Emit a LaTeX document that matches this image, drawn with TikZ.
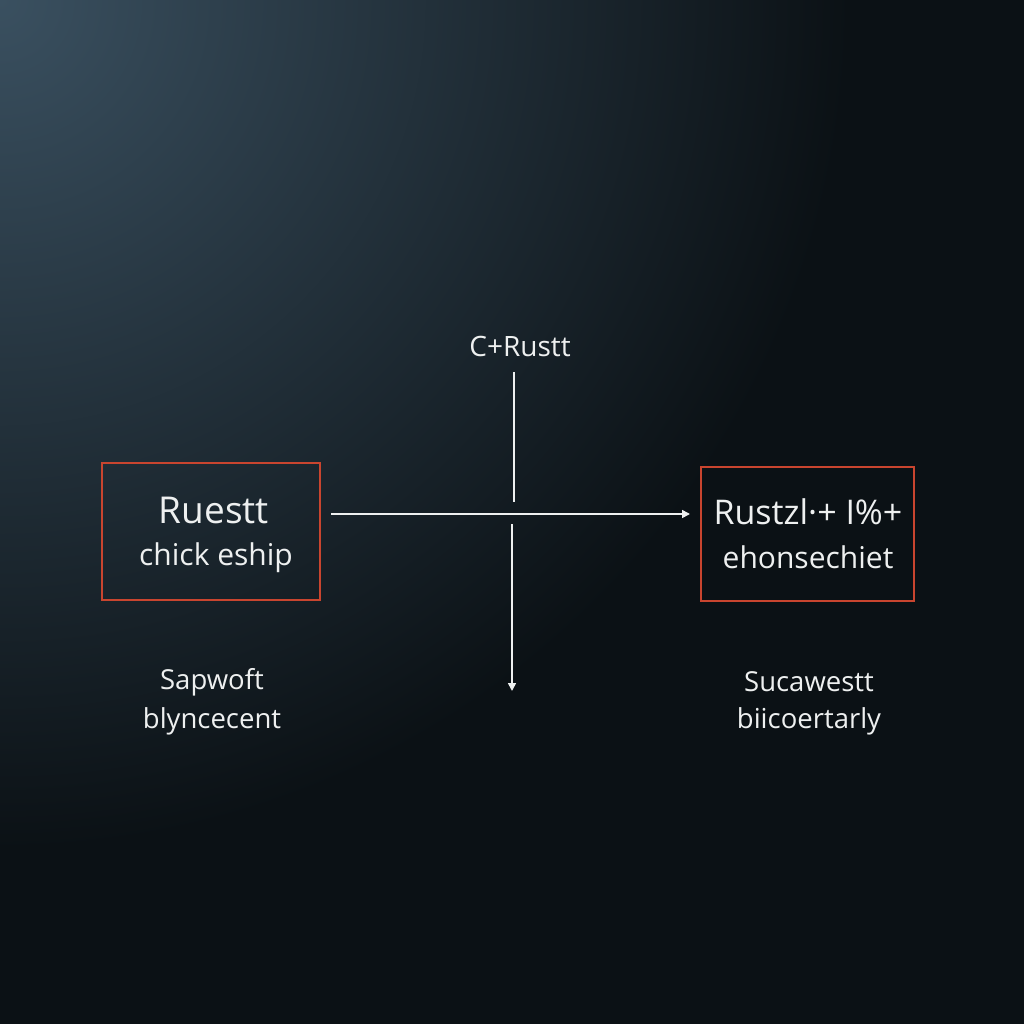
\documentclass[tikz,border=0pt]{standalone}
\usepackage{fontspec}
\setmainfont{Open Sans}
\usetikzlibrary{arrows.meta}
\definecolor{boxred}{HTML}{C9452F}
\definecolor{txt}{HTML}{EEF0F0}
\definecolor{bgin}{HTML}{3A5060}
\definecolor{bgout}{HTML}{0B1115}
\begin{document}
\begin{tikzpicture}[x=1pt,y=-1pt,
  box/.style={draw=boxred,line width=2pt,minimum width=218pt,minimum height=137pt,inner sep=0pt},
  lbl/.style={text=txt,font=\fontsize{27.5}{33}\selectfont,align=center},
  conn/.style={draw=txt,line width=1.6pt},
  tip/.style={-{Triangle[width=8pt,length=8pt]}}]
\useasboundingbox (0,0) rectangle (1024,1024);
\fill[bgout] (0,0) rectangle (1024,1024);
\begin{scope}
\clip (0,0) rectangle (1024,1024);
\shade[inner color=bgin,outer color=bgout] (0,0) circle (850);
\end{scope}
\node[box] (L) at (211,531.5) {};
\node[box,minimum width=213pt,minimum height=134pt] (R) at (807.5,534) {};
\node[lbl,font=\fontsize{37}{44}\selectfont] (Lt1) at (214,510) {Ruestt};
\node[lbl,font=\fontsize{30}{36}\selectfont] (Lt2) at (216,558) {chick eship};
\node[lbl,font=\fontsize{34}{40}\selectfont] (Rt1) at (808,512) {Rustzl·+ I\%+};
\node[lbl,font=\fontsize{30}{36}\selectfont] (Rt2) at (808,557) {ehonsechiet};
\node[lbl,font=\fontsize{28}{34}\selectfont] (T) at (520,346) {C+Rustt};
\node[lbl] (B1) at (212,682) {Sapwoft};
\node[lbl] (B2) at (212,721) {blyncecent};
\node[lbl] (C1) at (809,682) {Sucawestt};
\node[lbl] (C2) at (809,721) {biicoertarly};
\coordinate (v1) at (514,372);
\coordinate (v2) at (514,502);
\coordinate (v3) at (512,524);
\coordinate (v4) at (512,691);
\draw[conn] (v1) -- (v2);
\draw[conn,tip] (v3) -- (v4);
\draw[conn,tip,shorten <=10pt,shorten >=10pt] (L.east |- 0,514) -- (R.west |- 0,514);
\end{tikzpicture}
\end{document}
